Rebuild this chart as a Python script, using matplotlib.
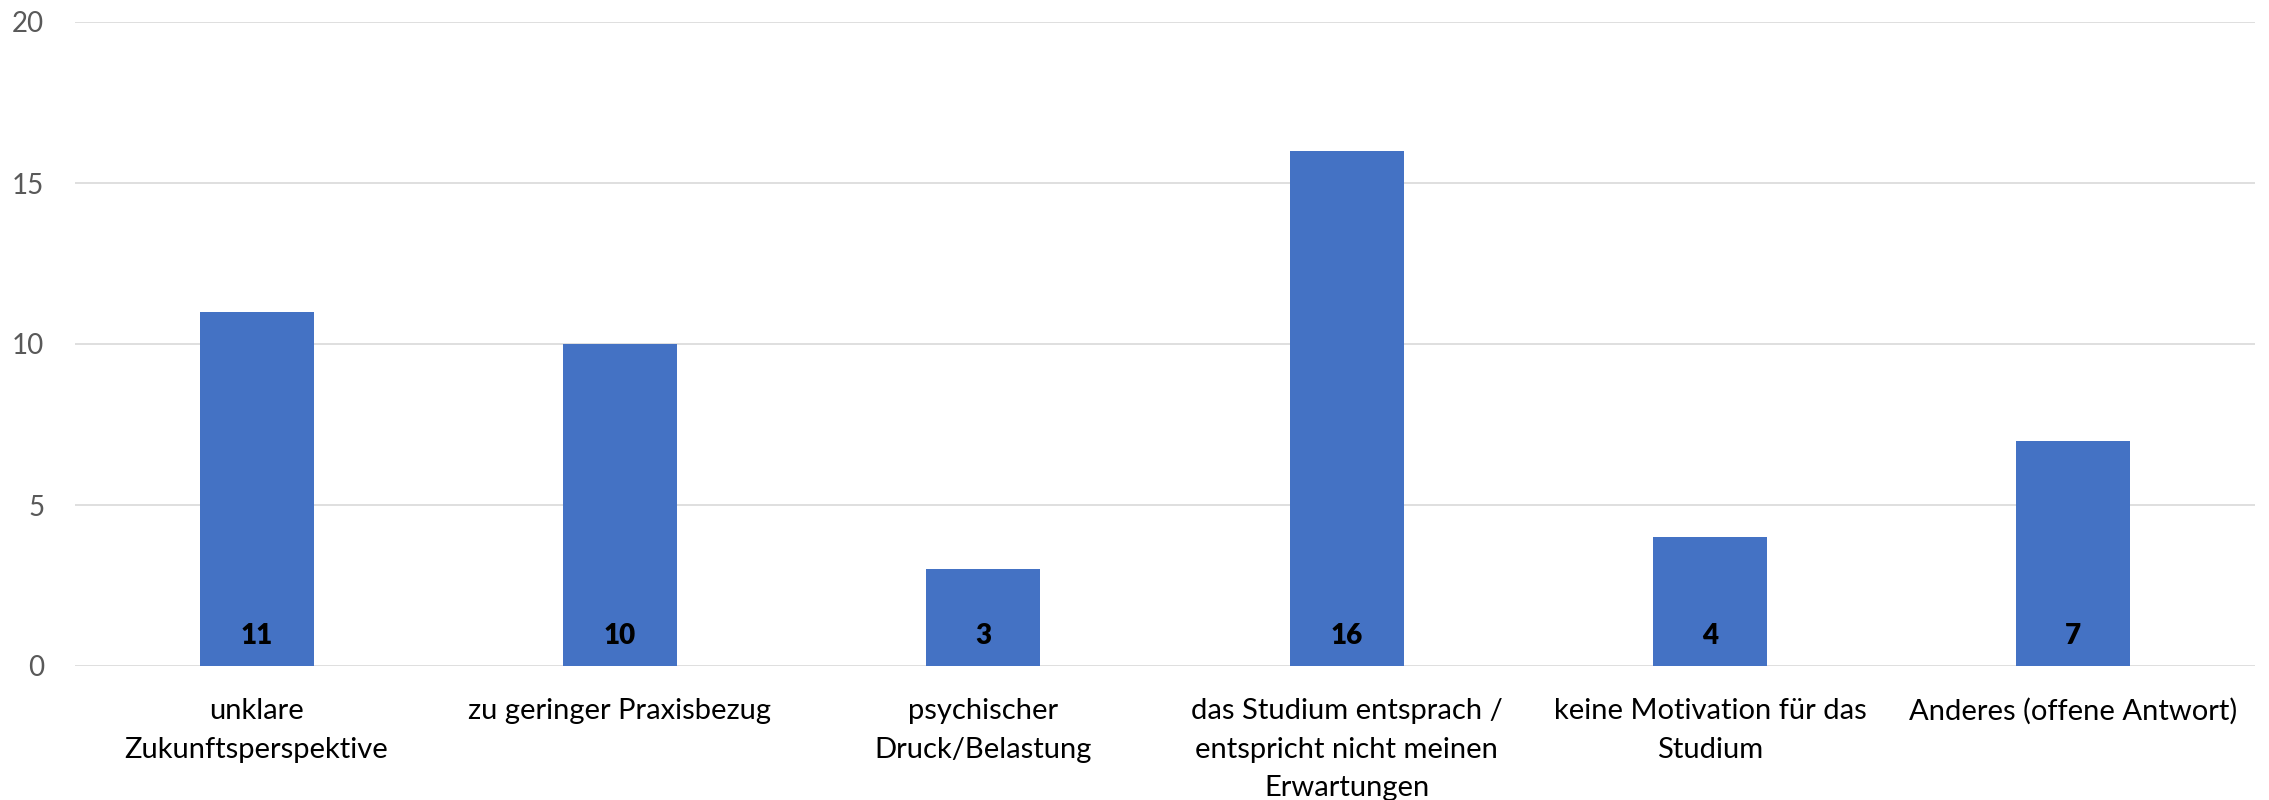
import matplotlib
matplotlib.use("Agg")
import matplotlib.pyplot as plt

categories = [
    "unklare\nZukunftsperspektive",
    "zu geringer Praxisbezug",
    "psychischer\nDruck/Belastung",
    "das Studium entsprach /\nentspricht nicht meinen\nErwartungen",
    "keine Motivation für das\nStudium",
    "Anderes (offene Antwort)",
]
values = [11, 10, 3, 16, 4, 7]
yticks = [0, 5, 10, 15, 20]

plt.rcParams['font.family'] = ['Lato', 'DejaVu Sans']

fig = plt.figure(figsize=(22.69, 8.0), dpi=100)
ax = fig.add_axes([0.033, 0.1675, 0.9608, 0.805])

x = list(range(len(categories)))
ax.bar(x, values, width=0.314, color="#4472C4", zorder=3)
ax.set_xlim(-0.5, len(categories) - 0.5)
ax.set_ylim(0, 20)
ax.set_yticks(yticks)
ax.set_yticklabels([str(t) for t in yticks], fontsize=20, color="#595959")
ax.set_xticks(x)
ax.set_xticklabels(categories, fontsize=21, color="#000000", linespacing=1.6)
ax.tick_params(axis='both', length=0)
ax.tick_params(axis='x', pad=23)
ax.tick_params(axis='y', pad=22)
ax.grid(axis='y', color="#D9D9D9", linewidth=1.2, zorder=0)
for s in ax.spines.values():
    s.set_visible(False)

for xi, v in zip(x, values):
    ax.annotate(str(v), (xi, 0), xytext=(0, 30), textcoords='offset pixels',
                ha='center', va='center', fontsize=20, fontweight='heavy',
                color='#000000', zorder=4)

fig.savefig("out.png", dpi=100)
